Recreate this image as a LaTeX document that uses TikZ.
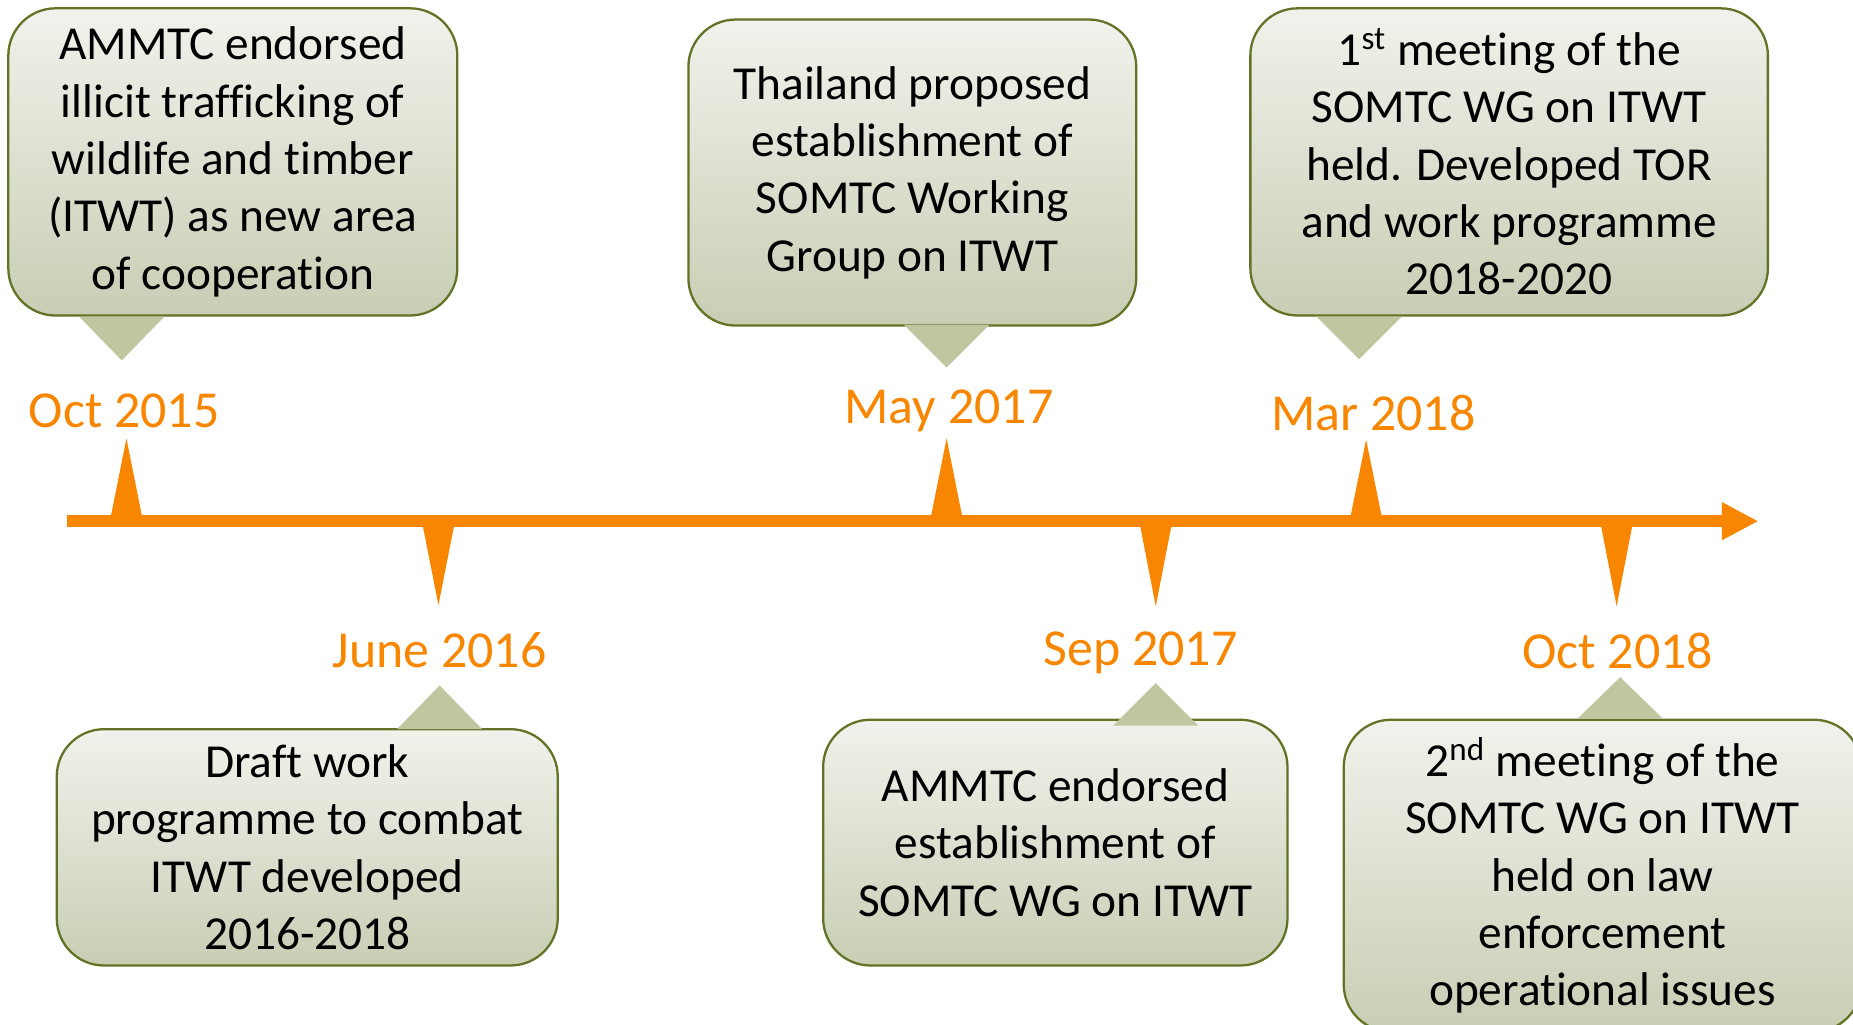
\documentclass[tikz,border=0pt]{standalone}
\usepackage{fontspec}
\setmainfont{Carlito}[Ligatures=NoCommon]
\usetikzlibrary{arrows.meta}
\definecolor{tlorange}{RGB}{248,134,0}
\definecolor{boxline}{RGB}{98,115,37}
\definecolor{boxtop}{RGB}{241,242,236}
\definecolor{boxbottom}{RGB}{200,206,180}
\definecolor{pointerfill}{RGB}{192,198,160}

\begin{document}
\begin{tikzpicture}[
x=0.02cm,y=-0.02cm,
timeline/.style={%
    draw=tlorange,line width=0.2cm,
    -{Triangle[length=0.62cm,width=0.6cm]},
},
spike/.style={fill=tlorange},
date/.style={%
    anchor=base,text=tlorange,inner sep=0pt,
    font=\fontsize{25pt}{30pt}\selectfont,
},
callout/.style={%
    rectangle,rounded corners=0.8cm,
    draw=boxline,line width=1.1pt,
    top color=boxtop,bottom color=boxbottom,
    align=center,inner sep=0pt,
    font=\fontsize{22.8pt}{27.6pt}\selectfont,
},
pointer/.style={fill=pointerfill},
]
\clip (0,0) rectangle (1568,867);

% Nodes
\node[callout,minimum width=7.6cm,minimum height=5.2cm]
    at (197,137)    (amm15)     {AMMTC endorsed\\illicit trafficking of\\wildlife and timber\\(ITWT) as new area\\of cooperation};
\node[callout,minimum width=8.48cm,minimum height=4cm]
    at (260,717)    (draft16)   {Draft work\\programme to combat\\ITWT developed\\2016-2018};
\node[callout,minimum width=7.58cm,minimum height=5.18cm]
    at (772,146)    (thai17)    {Thailand proposed\\establishment of\\SOMTC Working\\Group on ITWT};
\node[callout,minimum width=7.86cm,minimum height=4.16cm]
    at (893,713)    (amm17)     {AMMTC endorsed\\establishment of\\SOMTC WG on ITWT};
\node[callout,minimum width=8.76cm,minimum height=5.2cm]
    at (1277,137)   (meet18a)   {1\textsuperscript{st} meeting of the\\SOMTC WG on ITWT\\held. Developed TOR\\and work programme\\2018-2020};
\node[callout,minimum width=8.76cm,minimum height=5.28cm]
    at (1356,741)   (meet18b)   {2\textsuperscript{nd} meeting of the\\SOMTC WG on ITWT\\held on law\\enforcement\\operational issues};

\node[date] at (105,362)    (oct15)     {Oct 2015};
\node[date] at (372,565)    (jun16)     {June 2016};
\node[date] at (803,358)    (may17)     {May 2017};
\node[date] at (965,563)    (sep17)     {Sep 2017};
\node[date] at (1162,364)   (mar18)     {Mar 2018};
\node[date] at (1369,566)   (oct18)     {Oct 2018};

\coordinate (tlstart)   at (57,441);
\coordinate (tlend)     at (1488,441);

% Pointers
\foreach \x/\y/\h in {103/268/37, 801/275/36, 1150/268/36, 372/617/-37, 978/614/-36, 1371/608/-35}
    \fill[pointer] (\x-36,\y) -- (\x+36,\y) -- (\x,\y+\h) -- cycle;

% Lines
\draw[timeline] (tlstart) -- (tlend);
\foreach \x/\h in {107/-70, 371/71, 801/-70, 978/72, 1156/-69, 1368/72}
    \fill[spike] (\x-14,441) -- (\x,441+\h) -- (\x+14,441) -- cycle;
\end{tikzpicture}
\end{document}
